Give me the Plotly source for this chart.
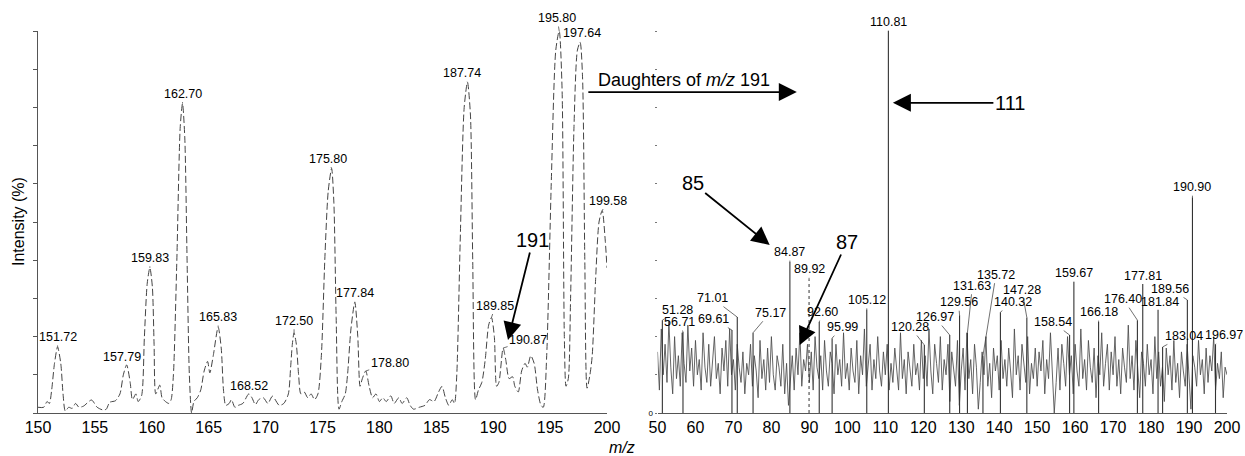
import plotly.graph_objects as go

# ---------------- DATA ----------------
# Left panel: full-scan profile spectrum, m/z 150-200 (intensity %)
left_mz = [
    150.0, 150.5, 150.8, 151.0, 151.2, 151.45, 151.72, 152.0, 152.2, 152.4,
    152.7, 153.0, 153.3, 153.6, 154.0, 154.7, 155.2, 155.7, 156.0, 156.3,
    156.8, 157.2, 157.5, 157.79, 158.1, 158.3, 158.6, 158.8, 159.1, 159.35,
    159.6, 159.83, 160.05, 160.2, 160.35, 160.7, 160.9, 161.2, 161.5, 161.7,
    161.9, 162.2, 162.5, 162.7, 162.9, 163.1, 163.3, 163.5, 163.7, 164.0,
    164.3, 164.6, 164.9, 165.1, 165.4, 165.83, 166.1, 166.3, 166.5, 166.8,
    167.0, 167.3, 167.6, 168.0, 168.52, 168.8, 169.1, 169.4, 169.8, 170.2,
    170.6, 171.2, 171.6, 172.0, 172.2, 172.35, 172.5, 172.7, 172.9, 173.1,
    173.4, 173.7, 174.0, 174.3, 174.6, 174.9, 175.2, 175.5, 175.8, 176.0,
    176.2, 176.45, 176.7, 177.0, 177.2, 177.5, 177.84, 178.1, 178.3, 178.5,
    178.8, 179.1, 179.4, 179.7, 180.0, 180.3, 180.6, 181.0, 181.3, 181.7,
    182.0, 182.4, 182.7, 183.0, 183.5, 184.0, 184.4, 184.8, 185.2, 185.5,
    185.8, 186.1, 186.4, 186.6, 186.8, 187.1, 187.45, 187.74, 188.0, 188.2,
    188.45, 188.7, 189.0, 189.3, 189.6, 189.85, 190.1, 190.3, 190.5, 190.87,
    191.1, 191.4, 191.7, 191.9, 192.2, 192.5, 192.8, 193.0, 193.3, 193.6,
    193.9, 194.2, 194.4, 194.7, 195.1, 195.5, 195.8, 196.05, 196.25, 196.4,
    196.6, 196.8, 197.1, 197.4, 197.64, 197.85, 198.05, 198.25, 198.5, 198.7,
    199.0, 199.3, 199.58, 199.85, 200.0,
]
left_int = [
    1.5, 1.5, 3.0, 2.5, 6, 13, 17.3, 13, 5, 0.5,
    1.5, 1.2, 2.5, 1.5, 1.8, 3.4, 1.5, 0.8, 1.0, 2.8,
    3.2, 5, 10, 12.6, 8, 3.5, 5, 3, 4.5, 20,
    34, 38, 33, 18, 5, 7.3, 4, 3, 2.5, 3.5,
    10, 40, 75, 81, 72, 40, 10, 0, 3, 4,
    6, 11, 13.5, 10.5, 15, 22.5, 17, 6, 2, 2.5,
    3.5, 1.5, 2, 2.5, 5, 4, 2.2, 3.5, 4, 2.5,
    4.4, 2, 2.5, 5, 12, 18, 21, 18, 10, 5,
    5.5, 4, 5, 3.5, 5, 15, 40, 58, 64, 55,
    25, 1, 3, 5, 10, 22, 29, 20, 7, 9,
    11, 7, 4, 5, 3, 4, 3, 4.5, 2.5, 4,
    2.5, 4, 2, 1, 1.5, 2, 3.5, 3, 5.5, 7,
    4, 2, 3.5, 2.5, 10, 45, 80, 86.6, 78, 40,
    3.5, 6, 8, 14, 23, 25, 20, 7, 8, 17,
    14, 9, 9.5, 7, 5.5, 11, 13, 12, 15, 13,
    6, 2, 1.5, 15, 60, 95, 100, 85, 20, 7,
    9, 30, 75, 95, 97, 88, 40, 6.5, 10, 15,
    35, 50, 53, 45, 38,
]
left_label_mz = [151.72, 157.79, 159.83, 162.70, 165.83, 168.52, 172.50, 175.80,
                 177.84, 178.80, 187.74, 189.85, 190.87, 195.80, 197.64, 199.58]
left_label_int = [17.3, 12.6, 38, 81, 22.5, 5, 21, 64,
                  29, 11, 86.6, 25, 17, 100, 97, 53]

# Right panel: daughter-ion spectrum of m/z 191 (noise trace, 0.5 u sampling from m/z 50)
right_noise_start = 50.0
right_noise_step = 0.5
right_noise = [
    16, 6, 22, 10, 18, 8, 24, 12, 5, 20, 9, 15, 7, 21, 13, 8, 23, 11, 17, 7,
    19, 10, 14, 6, 21, 12, 8, 18, 7, 15, 20, 9, 13, 5, 17, 11, 19, 7, 22, 10,
    14, 6, 18, 12, 8, 16, 5, 13, 10, 18, 7, 15, 11, 4, 19, 9, 14, 6, 17, 8,
    20, 10, 6, 15, 12, 7, 18, 5, 13, 2, 9, 15, 6, 17, 10, 21, 7, 14, 11, 18,
    8, 16, 6, 20, 12, 9, 15, 6, 19, 11, 7, 16, 13, 5, 18, 10, 14, 7, 21, 9,
    13, 6, 17, 11, 8, 19, 5, 15, 10, 22, 7, 12, 18, 6, 14, 9, 20, 11, 7, 16,
    10, 18, 6, 13, 8, 17, 12, 6, 21, 9, 14, 5, 16, 11, 7, 18, 10, 13, 6, 19,
    9, 15, 7, 22, 11, 5, 18, 13, 8, 20, 6, 14, 10, 18, 3, 16, 12, 7, 19, 2,
    11, 17, 6, 21, 9, 14, 5, 18, 12, 1, 8, 16, 10, 20, 7, 13, 4, 17, 11, 15,
    6, 19, 9, 14, 7, 17, 11, 4, 22, 10, 15, 6, 18, 12, 8, 20, 5, 13, 9, 17,
    7, 16, 11, 19, 5, 14, 9, 21, 12, 0, 8, 17, 6, 18, 13, 7, 20, 10, 15, 5,
    18, 11, 7, 22, 9, 14, 6, 19, 12, 8, 17, 4, 15, 10, 21, 7, 13, 18, 6, 16,
    10, 20, 7, 14, 5, 17, 12, 8, 23, 9, 15, 6, 19, 11, 4, 16, 13, 7, 18, 10,
    14, 5, 20, 9, 16, 7, 12, 3, 17, 10, 15, 6, 19, 8, 13, 4, 16, 11, 7, 18,
    9, 1, 15, 12, 7, 19, 10, 14, 5, 17, 8, 15, 11, 20, 6, 13, 9, 16, 4, 12,
    10,
]
right_peak_mz = [51.28, 56.71, 69.61, 71.01, 75.17, 84.87, 89.92, 92.60, 95.99,
                 105.12, 110.81, 120.28, 126.97, 129.56, 131.63, 135.72, 140.32,
                 147.28, 158.54, 159.67, 166.18, 176.40, 177.81, 181.84, 183.04,
                 189.56, 190.90, 196.97]
right_peak_int = [24.3, 21.2, 21.7, 25.1, 21, 39.5, 35, 23.8, 19.6,
                  27, 100, 17.8, 20.4, 25.6, 21, 15, 26.4,
                  25, 20.4, 34.3, 23.8, 24.3, 33.8, 27, 17.3,
                  29.6, 56.5, 18]
dotted_peak_mz = [89.92]

# ---------------- STYLE / POSITIONS ----------------
left_label_offsets = [(0, -10), (-5, -8), (0, -10), (0, -10), (0, -10), (0, -8),
                      (0, -12), (-4, -10), (0, -9), (24, -8), (-5, -9), (4, -12),
                      (25, -8), (-2, -13), (2, -9), (6, -10)]
right_label_offsets = [(15, -10), (-3, -10), (-18, -11), (-25, -19), (17, -20), (0, -10),
                       (0, -10), (3, -10), (10, -11), (0, -10), (0, -9), (-14, -18),
                       (-15, -18), (-1, -13), (5, -47), (13, -81), (13, -10), (-5, -28),
                       (-17, -13), (0, -9), (0, -10), (-14, -21), (0, -8), (2, -8),
                       (21, -11), (-17, -11), (0, -10), (8, -9)]

FONT = "Liberation Sans, Arial, Helvetica, sans-serif"
W, H = 1245, 456


def px(x):                   # reference pixel x -> paper
    return x / W


def py(y):                   # reference pixel y -> paper
    return 1 - y / H


fig = go.Figure()

# left profile
fig.add_trace(go.Scatter(
    x=left_mz, y=left_int, mode="lines", xaxis="x", yaxis="y",
    line=dict(color="#444444", width=1, dash="7px,3px", shape="spline", smoothing=0.7),
    hoverinfo="skip", showlegend=False))

# right noise trace
noise_x = [right_noise_start + right_noise_step * i for i in range(len(right_noise))]
fig.add_trace(go.Scatter(
    x=noise_x, y=right_noise, mode="lines", xaxis="x2", yaxis="y2",
    line=dict(color="#4a4a4a", width=0.85), hoverinfo="skip", showlegend=False))

# right labelled sticks
sx, sy, dx, dy = [], [], [], []
for m, h in zip(right_peak_mz, right_peak_int):
    if m in dotted_peak_mz:
        dx += [m, m, None]
        dy += [0, h, None]
    else:
        sx += [m, m, None]
        sy += [0, h, None]
fig.add_trace(go.Scatter(x=sx, y=sy, mode="lines", xaxis="x2", yaxis="y2",
                         line=dict(color="#333333", width=1.1),
                         hoverinfo="skip", showlegend=False))
fig.add_trace(go.Scatter(x=dx, y=dy, mode="lines", xaxis="x2", yaxis="y2",
                         line=dict(color="#333333", width=1, dash="dot"),
                         hoverinfo="skip", showlegend=False))

ann = []
for m, h, (ax, ay) in zip(left_label_mz, left_label_int, left_label_offsets):
    ann.append(dict(x=m, y=h, xref="x", yref="y", text=f"{m:.2f}",
                    showarrow=True, arrowhead=0, arrowwidth=0.7, arrowcolor="#333",
                    ax=ax, ay=ay, font=dict(size=12.5, color="black", family=FONT)))
for m, h, (ax, ay) in zip(right_peak_mz, right_peak_int, right_label_offsets):
    ann.append(dict(x=m, y=h, xref="x2", yref="y2", text=f"{m:.2f}",
                    showarrow=True, arrowhead=0, arrowwidth=0.7, arrowcolor="#333",
                    ax=ax, ay=ay, font=dict(size=12.5, color="black", family=FONT)))

big = dict(size=20, color="black", family=FONT)
arrow_style = dict(showarrow=True, arrowhead=2, arrowsize=2, arrowwidth=1.8,
                   arrowcolor="black")
# Daughters arrow
ann.append(dict(x=86.7, y=84, xref="x2", yref="y2", text="", ax=-210, ay=0, **arrow_style))
ann.append(dict(x=px(596), y=py(80), xref="paper", yref="paper",
                xanchor="left", yanchor="middle", showarrow=False,
                text="Daughters of <i>m/z</i> 191",
                font=dict(size=18, color="black", family=FONT)))
ann.append(dict(x=112.0, y=81.2, xref="x2", yref="y2", text="111", ax=117, ay=0,
                font=big, **arrow_style))
ann.append(dict(x=79.55, y=44, xref="x2", yref="y2", text="85", ax=-77, ay=-62,
                font=big, **arrow_style))
ann.append(dict(x=87.47, y=17.8, xref="x2", yref="y2", text="87", ax=47, ay=-103,
                font=big, **arrow_style))
ann.append(dict(x=191.3, y=19.1, xref="x", yref="y", text="191", ax=25, ay=-100,
                font=big, **arrow_style))
# axis titles
ann.append(dict(x=px(18), y=py(222), xref="paper", yref="paper", showarrow=False,
                xanchor="center", yanchor="middle",
                text="Intensity (%)", textangle=-90,
                font=dict(size=16, color="black", family=FONT)))
ann.append(dict(x=px(622), y=py(447), xref="paper", yref="paper", showarrow=False,
                xanchor="center", yanchor="middle",
                text="<i>m/z</i>", font=dict(size=16, color="black", family=FONT)))

ydom = [py(413), py(31)]
tickfont = dict(size=16, color="black", family=FONT)
fig.update_layout(
    width=W, height=H, margin=dict(l=0, r=0, t=0, b=0),
    paper_bgcolor="white", plot_bgcolor="white",
    showlegend=False, annotations=ann,
    xaxis=dict(domain=[px(38), px(607)], range=[150, 200], tickvals=list(range(150, 201, 5)),
               showline=True, linecolor="#555", linewidth=1, ticks="", showgrid=False,
               zeroline=False, tickfont=tickfont, anchor="y", automargin=False),
    yaxis=dict(domain=ydom, range=[0, 100], tickvals=list(range(0, 101, 10)),
               showticklabels=False, ticks="outside", ticklen=4, tickcolor="#555",
               showline=True, linecolor="#555", linewidth=1, showgrid=False,
               zeroline=False, anchor="x", automargin=False),
    xaxis2=dict(domain=[px(657.5), px(1227)], range=[50, 200],
                tickvals=list(range(50, 201, 10)),
                showline=True, linecolor="#555", linewidth=1, ticks="", showgrid=False,
                zeroline=False, tickfont=tickfont, anchor="y2", automargin=False),
    yaxis2=dict(domain=ydom, range=[0, 100], tickvals=list(range(0, 101, 10)),
                ticktext=["0"] + [""] * 10, ticks="outside", ticklen=2, tickcolor="#777",
                showline=False, showgrid=False, zeroline=False, anchor="x2",
                automargin=False,
                tickfont=dict(size=8, color="black", family=FONT)),
)

fig.write_html("out.html",
               config={"displayModeBar": False},
               post_script="document.body.style.margin='0';"
                           "document.body.style.overflow='hidden';")
